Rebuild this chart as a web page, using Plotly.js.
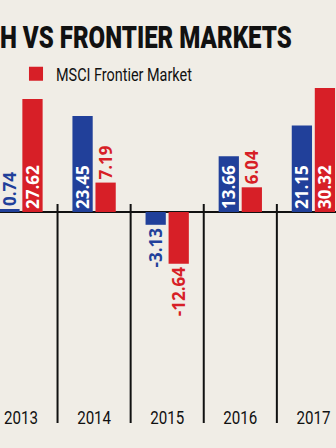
<!DOCTYPE html>
<html><head><meta charset="utf-8">
<script src="https://cdn.plot.ly/plotly-3.0.1.min.js"></script>
<style>html,body{margin:0;padding:0;background:#f0ede6;overflow:hidden;}</style>
</head><body><div id="chart" style="width:336px;height:448px;"></div>
<script>
const years = ['2013', '2014', '2015', '2016', '2017'];
const blueValues = [0.74, 23.45, -3.13, 13.66, 21.15];
const redValues = [27.62, 7.19, -12.64, 6.04, 30.32];
const blueName = 'MSCI Bangladesh';
const redName = 'MSCI Frontier Market';
const titleText = 'MSCI BANGLADESH VS FRONTIER MARKETS';
const titleVisiblePart = 'H VS FRONTIER MARKETS';

const BLUE = '#21409a';
const RED = '#d71f27';
const BG = '#f0ede6';
const NARROW = 'Roboto, "Liberation Sans", sans-serif';
const VALFONT = '"Open Sans", "Liberation Sans", sans-serif';

const T = 60, B = 404, H = 448, W = 336;
const pxToPaper = px => (B - px) / (B - T);

const blueTrace = {
  type: 'bar', x: years, y: blueValues, name: blueName, showlegend: false,
  marker: {color: BLUE},
  text: blueValues.map(v => v.toFixed(2)),
  textposition: ['outside', 'inside', 'outside', 'inside', 'inside'],
  textangle: -90, insidetextanchor: 'start', constraintext: 'none', cliponaxis: false,
  insidetextfont: {color: '#ffffff', family: VALFONT, size: 17, weight: 700},
  outsidetextfont: {color: BLUE, family: VALFONT, size: 17, weight: 700},
  hoverinfo: 'skip'
};
const redTrace = {
  type: 'bar', x: years, y: redValues, name: redName, showlegend: true,
  marker: {color: RED},
  text: redValues.map(v => v.toFixed(2)),
  textposition: ['inside', 'outside', 'outside', 'outside', 'inside'],
  textangle: -90, insidetextanchor: 'start', constraintext: 'none', cliponaxis: false,
  insidetextfont: {color: '#ffffff', family: VALFONT, size: 17, weight: 700},
  outsidetextfont: {color: RED, family: VALFONT, size: 17, weight: 700},
  hoverinfo: 'skip'
};

const shapes = [];
for (let i = 0; i < years.length + 1; i++) {
  shapes.push({
    type: 'line', xref: 'x', yref: 'paper',
    x0: i - 0.5, x1: i - 0.5, y0: pxToPaper(204), y1: pxToPaper(423),
    line: {color: '#111111', width: 2}
  });
}

const layout = {
  width: W, height: H,
  margin: {l: 0, r: 0, t: T, b: H - B, autoexpand: false},
  paper_bgcolor: BG, plot_bgcolor: BG,
  barmode: 'group', bargap: 0.37, bargroupgap: 0.12,
  showlegend: true,
  legend: {orientation: 'h', x: 16 / W, xanchor: 'left', y: pxToPaper(74), yanchor: 'middle',
           bgcolor: 'rgba(0,0,0,0)', font: {family: NARROW, size: 18, color: '#111111'}},
  xaxis: {type: 'category', range: [-0.287, 4.309], showgrid: false, showline: false,
          ticks: '', zeroline: false, fixedrange: true,
          tickfont: {family: NARROW, size: 19, color: '#111111'}},
  yaxis: {range: [-(B - 212) / 4.09, (212 - T) / 4.09], showgrid: false, showticklabels: false,
          zeroline: true, zerolinecolor: '#111111', zerolinewidth: 2, ticks: '', fixedrange: true},
  shapes: shapes,
  annotations: [{
    text: titleText, xref: 'paper', yref: 'paper',
    x: 294 / W, xanchor: 'right', y: pxToPaper(37), yanchor: 'middle', showarrow: false,
    font: {family: NARROW, size: 32, weight: 900, color: '#111111'}
  }]
};

function measure(str, font) {
  const c = document.createElement('canvas').getContext('2d');
  c.font = font;
  return c.measureText(str).width;
}
function squeeze(el, s, anchor) {
  const bb = el.getBBox();
  const ax = anchor === 'start' ? bb.x : anchor === 'end' ? bb.x + bb.width : bb.x + bb.width / 2;
  const prev = el.getAttribute('transform') || '';
  el.setAttribute('transform', prev + ' translate(' + ax + ',0) scale(' + s + ',1) translate(' + (-ax) + ',0)');
}

Plotly.newPlot('chart', [blueTrace, redTrace], layout, {displayModeBar: false, staticPlot: true}).then(() => {
  // condensed look of the original typeface
  const t = document.querySelector('.annotation-text');
  if (t) squeeze(t, 292 / measure(titleVisiblePart, '900 32px Roboto'), 'end');
  document.querySelectorAll('.legendtext').forEach(el => {
    squeeze(el, 136 / el.getComputedTextLength(), 'start');
  });
  document.querySelectorAll('.legendpoints path').forEach(el => {
    const prev = el.getAttribute('transform') || '';
    el.setAttribute('transform', prev + ' scale(1.17)');
  });
  const ticks = document.querySelectorAll('.xtick text');
  if (ticks.length) {
    const s = 34 / measure('2014', '400 19px Roboto');
    ticks.forEach(el => squeeze(el, s, 'middle'));
  }
});
</script></body></html>
